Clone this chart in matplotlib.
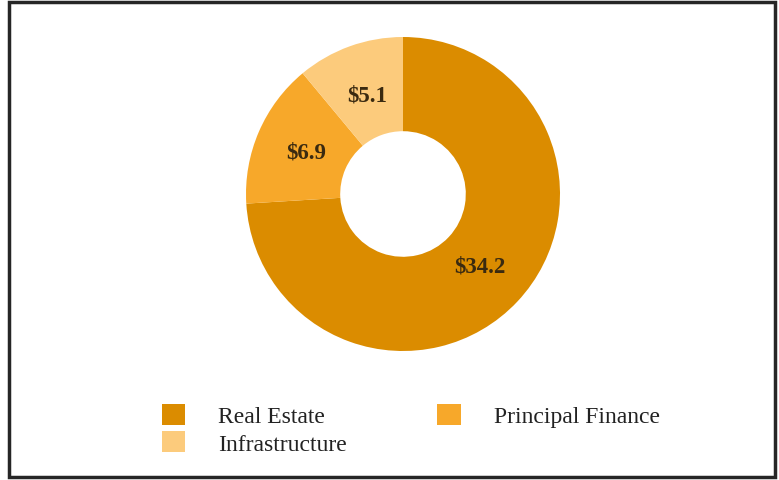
import numpy as np
import matplotlib.pyplot as plt
from matplotlib.patches import Rectangle

categories = ['Real Estate', 'Principal Finance', 'Infrastructure']
values = [34.2, 6.9, 5.1]
colors = ['#DB8C00', '#F7A82A', '#FCCB7C']

plt.rcParams['font.family'] = ['Liberation Serif', 'DejaVu Serif']

W, H = 779, 481
fig = plt.figure(figsize=(W / 100, H / 100), dpi=100)

# outer frame
fig.patches.append(Rectangle((9 / W, 3 / H), 766 / W, 475 / H, transform=fig.transFigure,
                             fill=False, edgecolor='#262626', linewidth=2.5))

# donut
cx, cy, r = 403, 195, 157
ax = fig.add_axes([(cx - r) / W, 1 - (cy + r) / H, 2 * r / W, 2 * r / H])
wedges, _ = ax.pie(values, colors=colors, startangle=90, counterclock=False,
                   wedgeprops=dict(width=0.6, linewidth=0))
for w, v in zip(wedges, values):
    mid = np.deg2rad((w.theta1 + w.theta2) / 2)
    ax.text(0.67 * np.cos(mid), 0.67 * np.sin(mid), f'${v}', ha='center', va='center',
            fontsize=16.5, fontweight='bold', color='#3a2a10')
ax.set_xlim(-1, 1)
ax.set_ylim(-1, 1)

# legend (column-wise fill, so reorder to read row by row)
order = [0, 2, 1]
leg = fig.legend([wedges[i] for i in order], [categories[i] for i in order],
                 loc='upper left', bbox_to_anchor=(150 / W, 1 - 393 / H), ncol=2,
                 frameon=False, fontsize=17, handlelength=1.0, handleheight=1.0,
                 handletextpad=1.4, columnspacing=3.8, labelspacing=0.15, borderpad=0)
for t in leg.get_texts():
    t.set_color('#222222')

fig.savefig('out.png', dpi=100)
